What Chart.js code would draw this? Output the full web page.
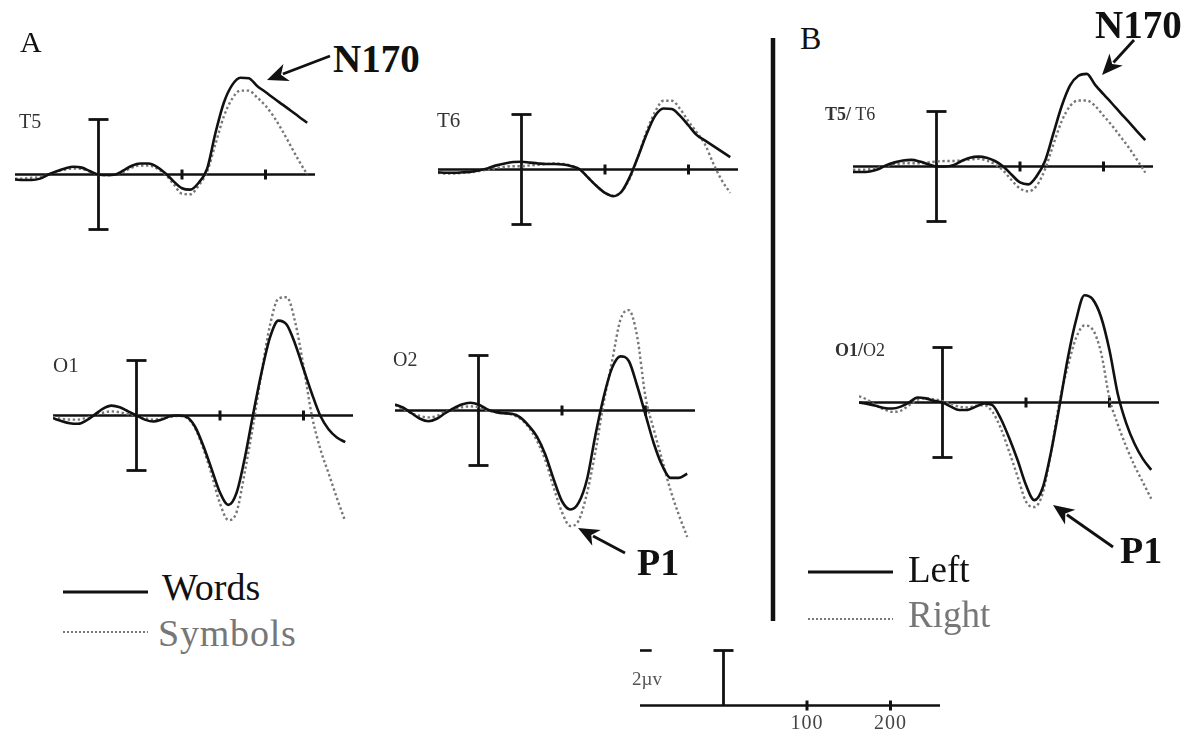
<!DOCTYPE html>
<html><head><meta charset="utf-8">
<script src="https://cdn.jsdelivr.net/npm/chart.js@4.4.1/dist/chart.umd.min.js"></script>
<style>
html,body{margin:0;padding:0;background:#fff;overflow:hidden;}
#wrap{position:relative;width:1196px;height:737px;overflow:hidden;font-family:"Liberation Serif","Times New Roman",serif;background:#fff;}
canvas.pc{position:absolute;}
.t{position:absolute;white-space:nowrap;line-height:1;}
svg{position:absolute;left:0;top:0;}
</style></head>
<body><div id="wrap">
<svg id="ov" width="1196" height="737"></svg>
</div>
<script>
// ---------- DATA (µV, sampled every 10 ms; negative plotted upward) ----------
const times = [-100,-90,-80,-70,-60,-50,-40,-30,-20,-10,0,10,20,30,40,50,60,70,80,90,100,110,120,130,140,150,160,170,180,190,200,210,220,230,240,250];

const t5Words   = [0.18,0.2,0.2,0.15,0.0,-0.12,-0.22,-0.28,-0.25,-0.12, 0,0.02,0.0,-0.15,-0.32,-0.4,-0.4,-0.28,-0.05,0.25, 0.5,0.55,0.3,-0.2,-1.5,-2.6,-3.25,-3.52,-3.5,-3.22, -3.0,-2.77,-2.55,-2.33,-2.1,-1.88];
const t5Symbols = [0.15,0.15,0.12,0.1,0.0,-0.1,-0.18,-0.22,-0.2,-0.1, 0,0.03,0.0,-0.1,-0.25,-0.33,-0.33,-0.22,0.0,0.35, 0.7,0.72,0.4,-0.1,-1.1,-2.1,-2.75,-3.05,-3.05,-2.8, -2.5,-2.1,-1.6,-1.05,-0.5,0.0];

const t6Words   = [0.1,0.12,0.12,0.1,0.08,0.03,-0.05,-0.15,-0.22,-0.27, -0.28,-0.25,-0.22,-0.2,-0.2,-0.18,-0.12,0.0,0.3,0.6, 0.85,0.97,0.8,0.25,-0.5,-1.3,-1.95,-2.22,-2.2,-1.95, -1.6,-1.25,-1.05,-0.85,-0.65,-0.45];
const t6Symbols = [0.12,0.15,0.15,0.12,0.1,0.05,0.0,-0.05,-0.1,-0.12, -0.12,-0.15,-0.17,-0.2,-0.22,-0.2,-0.13,0.0,0.3,0.6, 0.85,0.95,0.8,0.3,-0.5,-1.4,-2.1,-2.5,-2.5,-2.2, -1.75,-1.35,-0.9,-0.2,0.4,0.85];

const o1Words   = [0.1,0.2,0.28,0.3,0.18,-0.03,-0.25,-0.36,-0.3,-0.15, 0,0.15,0.22,0.15,0.03,0.0,0.05,0.4,1.1,1.95, 2.8,3.25,2.8,1.5,-0.1,-1.6,-2.85,-3.45,-3.3,-2.6, -1.7,-0.8,0.0,0.5,0.8,0.97];
const o1Symbols = [0.05,0.12,0.15,0.15,0.08,-0.02,-0.1,-0.15,-0.12,-0.05, 0,0.1,0.15,0.12,0.05,0.02,0.08,0.45,1.2,2.15, 3.2,3.8,3.5,2.0,0.3,-1.6,-3.3,-4.25,-4.3,-3.4, -1.8,0.0,1.2,2.1,3.0,3.85];

const o2Words   = [-0.22,-0.1,0.1,0.3,0.39,0.3,0.1,-0.08,-0.22,-0.28, -0.22,-0.05,0.05,0.1,0.12,0.25,0.55,0.95,1.6,2.5, 3.3,3.6,3.35,2.5,0.9,-0.5,-1.55,-1.97,-1.8,-0.9, 0.15,1.2,2.0,2.45,2.45,2.3];
const o2Symbols = [-0.2,-0.05,0.1,0.2,0.25,0.2,0.05,-0.05,-0.12,-0.15, -0.12,0.0,0.05,0.1,0.15,0.3,0.6,1.1,1.8,2.8, 3.7,4.2,4.0,3.0,1.5,-0.3,-1.8,-3.3,-3.65,-2.7, -0.5,0.7,1.8,2.9,3.8,4.6];

const t5t6Left  = [0.2,0.2,0.18,0.1,-0.05,-0.15,-0.22,-0.24,-0.18,-0.08, 0,0.0,-0.05,-0.2,-0.32,-0.36,-0.32,-0.2,0.0,0.3, 0.58,0.65,0.35,-0.2,-1.2,-2.2,-2.95,-3.3,-3.37,-2.97, -2.63,-2.3,-1.96,-1.63,-1.29,-0.96];
const t5t6Right = [0.12,0.12,0.1,0.05,-0.02,-0.08,-0.12,-0.12,-0.12,-0.15, -0.18,-0.2,-0.2,-0.22,-0.25,-0.28,-0.22,-0.08,0.15,0.5, 0.8,0.9,0.7,0.1,-0.8,-1.65,-2.2,-2.4,-2.4,-2.2, -1.85,-1.5,-1.1,-0.7,-0.25,0.22];

const o1o2Left  = [0.0,0.05,0.12,0.2,0.22,0.15,0.0,-0.18,-0.15,-0.06, 0,0.15,0.27,0.27,0.15,0.03,0.1,0.6,1.3,2.1, 3.0,3.55,3.1,1.8,0.15,-1.6,-3.0,-3.9,-3.75,-3.1, -1.9,-0.3,0.75,1.5,2.05,2.45];
const o1o2Right = [-0.23,-0.1,0.1,0.25,0.34,0.3,0.1,-0.1,-0.15,-0.12, -0.05,0.05,0.15,0.18,0.12,0.1,0.35,0.95,1.8,2.7, 3.6,3.8,3.3,1.8,0.0,-1.3,-2.35,-2.8,-2.65,-1.8, -0.15,0.8,1.6,2.3,2.9,3.5];

const axisTicks = [100, 200];          // ms tick marks / scale labels
const barMicroV = 2;                   // calibration bar: 2 µV
const legendA = ['Words', 'Symbols'];
const legendB = ['Left', 'Right'];

// ---------- LAYOUT ----------
const CW = 301, CH = 275;              // canvas size; x: -100..260.5 ms, y: -5..5 µV
const panels = [
  {id:'T5',   left:15,  top:37,  a:t5Words,  b:t5Symbols},
  {id:'T6',   left:438, top:32,  a:t6Words,  b:t6Symbols},
  {id:'BT',   left:853, top:29,  a:t5t6Left, b:t5t6Right},
  {id:'O1',   left:53,  top:278, a:o1Words,  b:o1Symbols},
  {id:'O2',   left:395, top:273, a:o2Words,  b:o2Symbols},
  {id:'BO',   left:859, top:265, a:o1o2Left, b:o1o2Right}
];

const wrap = document.getElementById('wrap');

const erpAxes = {
  id: 'erpAxes',
  beforeDatasetsDraw(chart, args, opts) {
    const {ctx} = chart; const x = chart.scales.x, y = chart.scales.y;
    const y0 = y.getPixelForValue(0);
    ctx.save();
    ctx.strokeStyle = '#111'; ctx.lineCap = 'butt';
    ctx.lineWidth = 2.6;
    ctx.beginPath(); ctx.moveTo(x.left, y0); ctx.lineTo(x.right - 1, y0); ctx.stroke();
    ctx.lineWidth = 3;
    axisTicks.forEach(t => {
      const px = x.getPixelForValue(t);
      ctx.beginPath(); ctx.moveTo(px, y0 - 5); ctx.lineTo(px, y0 + 5); ctx.stroke();
    });
    const bx = x.getPixelForValue(0);
    const top = y.getPixelForValue(-barMicroV);
    const bot = y.getPixelForValue(opts.half ? 0 : barMicroV);
    ctx.lineWidth = 2.8;
    ctx.beginPath(); ctx.moveTo(bx, top); ctx.lineTo(bx, bot); ctx.stroke();
    ctx.beginPath(); ctx.moveTo(bx - 10, top); ctx.lineTo(bx + 10, top); ctx.stroke();
    if (!opts.half) { ctx.beginPath(); ctx.moveTo(bx - 10, bot); ctx.lineTo(bx + 10, bot); ctx.stroke(); }
    if (opts.dash) {
      ctx.lineWidth = 2.6;
      ctx.beginPath(); ctx.moveTo(x.getPixelForValue(-100), top); ctx.lineTo(x.getPixelForValue(-86), top); ctx.stroke();
    }
    ctx.restore();
  }
};

function pts(arr) { return times.map((t, i) => ({x: t, y: arr[i]})); }

function makeChart(left, top, datasets, axOpts) {
  const c = document.createElement('canvas');
  c.className = 'pc'; c.width = CW; c.height = CH;
  c.style.left = left + 'px'; c.style.top = top + 'px';
  c.style.width = CW + 'px'; c.style.height = CH + 'px';
  wrap.appendChild(c);
  return new Chart(c, {
    type: 'line',
    data: {datasets},
    options: {
      responsive: false, maintainAspectRatio: false, animation: false, devicePixelRatio: 1,
      layout: {padding: 0},
      events: [],
      plugins: {legend: {display: false}, tooltip: {enabled: false}, erpAxes: axOpts},
      elements: {point: {radius: 0}},
      scales: {
        x: {type: 'linear', min: -100, max: 260.5, display: false},
        y: {type: 'linear', min: -5, max: 5, reverse: true, display: false}
      }
    },
    plugins: [erpAxes]
  });
}

panels.forEach(p => {
  makeChart(p.left, p.top, [
    {label: 'solid', data: pts(p.a), borderColor: '#111', borderWidth: 2.6, cubicInterpolationMode: 'monotone', order: 0, fill: false},
    {label: 'dotted', data: pts(p.b), borderColor: '#777', borderWidth: 2.4, borderDash: [2.4, 2.6], cubicInterpolationMode: 'monotone', order: 1, fill: false}
  ], {half: false});
});

// calibration / time scale
const scaleChart = makeChart(640, 568, [], {half: true, dash: true});

// ---------- TEXT ----------
function txt(s, left, top, size, opts = {}) {
  const d = document.createElement('div');
  d.className = 't';
  d.innerHTML = s;
  d.style.left = left + 'px'; d.style.top = top + 'px';
  d.style.fontSize = size + 'px';
  d.style.color = opts.color || '#111';
  if (opts.bold) d.style.fontWeight = 'bold';
  if (opts.ls) d.style.letterSpacing = opts.ls + 'px';
  if (opts.center) d.style.transform = 'translateX(-50%)';
  wrap.appendChild(d);
  return d;
}
txt('A', 20, 27, 30);
txt('B', 800, 22, 32);
txt('N170', 333, 39, 39, {bold: true});
txt('N170', 1095, 5, 39, {bold: true});
txt('T5', 19, 111, 20, {color: '#333'});
txt('T6', 437, 110, 21, {color: '#333'});
txt('<b>T5/</b> T6', 825, 105, 18, {color: '#333'});
txt('O1', 53, 355, 21, {color: '#333'});
txt('O2', 393, 349, 20, {color: '#333'});
txt('<b>O1/</b>O2', 835, 341, 18, {color: '#333'});
txt('P1', 637, 543, 38, {bold: true});
txt('P1', 1120, 531, 38, {bold: true});
txt(legendA[0], 162, 568, 38);
txt(legendA[1], 158, 614, 38, {color: '#777', ls: 0.8});
txt(legendB[0], 908, 551, 37);
txt(legendB[1], 908, 596, 37, {color: '#777'});
txt('2µv', 632, 669, 19, {color: '#555'});
axisTicks.forEach(t => {
  const px = 640 + scaleChart.scales.x.getPixelForValue(t);
  txt(String(t), px, 712, 20, {color: '#444', center: true, ls: 1});
});

// ---------- OVERLAY: arrows, divider, legend keys ----------
const ov = document.getElementById('ov');
const NS = 'http://www.w3.org/2000/svg';
function el(tag, attrs) { const e = document.createElementNS(NS, tag); for (const k in attrs) e.setAttribute(k, attrs[k]); ov.appendChild(e); return e; }
function arrow(x1, y1, x2, y2) {
  const ang = Math.atan2(y2 - y1, x2 - x1), L = 21, W = 9;
  const bx = x2 - L * Math.cos(ang), by = y2 - L * Math.sin(ang);
  el('line', {x1, y1, x2: bx + 4*Math.cos(ang), y2: by + 4*Math.sin(ang), stroke: '#111', 'stroke-width': 2.8});
  const px = -Math.sin(ang) * W, py = Math.cos(ang) * W;
  el('polygon', {points: `${x2},${y2} ${bx + px},${by + py} ${bx + 6*Math.cos(ang)},${by + 6*Math.sin(ang)} ${bx - px},${by - py}`, fill: '#111'});
}
arrow(330, 56, 267, 80);
arrow(1134, 40, 1102, 75);
arrow(625, 553, 578, 528);
arrow(1113, 547, 1053, 505);
el('line', {x1: 773, y1: 38, x2: 773, y2: 621, stroke: '#111', 'stroke-width': 4.5});
el('line', {x1: 63, y1: 592, x2: 148, y2: 592, stroke: '#111', 'stroke-width': 3});
el('line', {x1: 63, y1: 632, x2: 148, y2: 632, stroke: '#777', 'stroke-width': 2, 'stroke-dasharray': '2 2'});
el('line', {x1: 808, y1: 572, x2: 893, y2: 572, stroke: '#111', 'stroke-width': 3});
el('line', {x1: 808, y1: 619, x2: 893, y2: 619, stroke: '#777', 'stroke-width': 2, 'stroke-dasharray': '2 2'});
wrap.appendChild(ov);
</script>
</body></html>
